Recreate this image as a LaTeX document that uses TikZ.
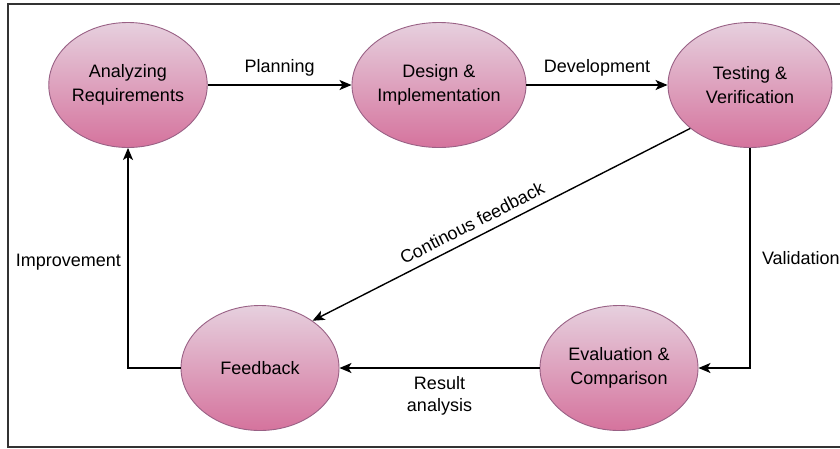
\documentclass[tikz,border=0pt]{standalone}
\usepackage{fontspec}
\setmainfont{Liberation Sans}
\usetikzlibrary{shapes.geometric,arrows.meta}

\definecolor{phasetop}{HTML}{E6D0DE}
\definecolor{phasebot}{HTML}{D5739D}
\definecolor{phaseline}{HTML}{996185}
\definecolor{framegray}{HTML}{333333}

\tikzset{
  phase/.style={ellipse, draw=phaseline, line width=0.9pt,
    top color=phasetop, bottom color=phasebot,
    minimum width=158pt, minimum height=125pt, inner sep=0pt,
    align=center, font=\fontsize{18}{24}\selectfont},
  flow/.style={line width=1.4pt, -{Stealth[length=12pt,width=10pt,inset=3pt]}},
  lbl/.style={font=\fontsize{18}{22}\selectfont, align=center}
}

\begin{document}
\begin{tikzpicture}[x=1pt,y=-1pt]
\useasboundingbox (0,0) rectangle (840,448);
\draw[framegray, line width=1.6pt] (8,4) rectangle (843,447);

% the five phases of the cycle
\node[phase, minimum width=152pt] (analyze) at (128,85) {Analyzing\\Requirements};
\node[phase] (design) at (439,85) {Design \&\\Implementation};
\node[phase, minimum width=164pt] (test) at (750,85) {Testing \&\\Verification};
\node[phase] (eval) at (619,368) {Evaluation \&\\Comparison};
\node[phase] (feedback) at (260,368) {Feedback};

% connectors
\draw[flow] (analyze) -- node[lbl, above=5pt] {Planning} (design);
\draw[flow] (design) -- node[lbl, above=5pt] {Development} (test);
\draw[flow] (test) |- node[lbl, right=8pt, pos=0.25] {Validation} (eval);
\draw[flow] (eval) -- node[lbl, below=4pt] {Result\\analysis} (feedback);
\draw[flow] (feedback) -| node[lbl, left=3pt, pos=0.74] {Improvement} (analyze);
\draw[flow] (test.216) -- node[lbl, sloped, above=4pt, pos=0.56] {Continous feedback} (feedback.42);
\end{tikzpicture}
\end{document}
